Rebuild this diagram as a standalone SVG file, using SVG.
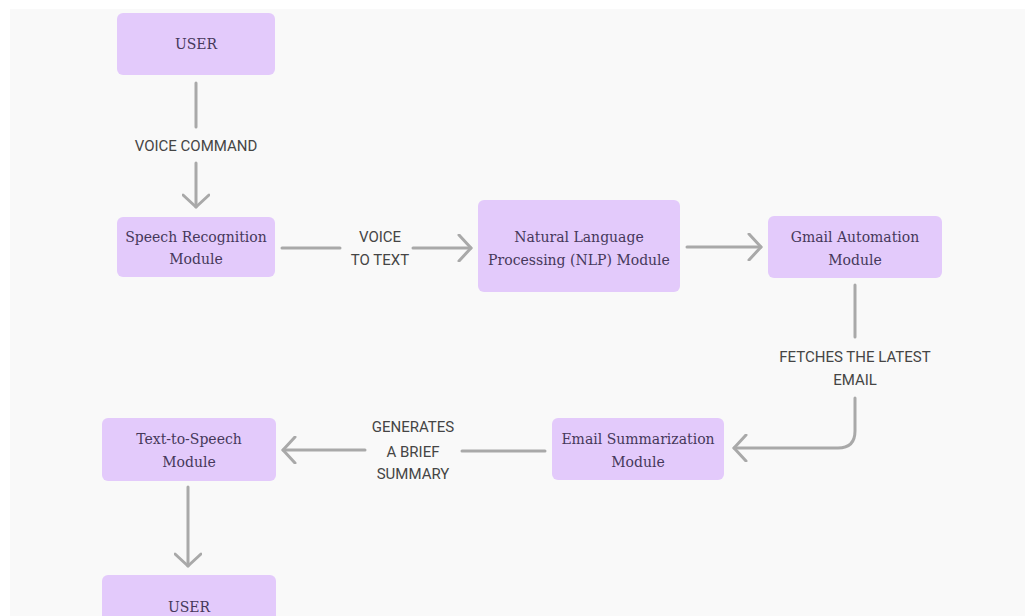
<svg xmlns="http://www.w3.org/2000/svg" width="1025" height="616" viewBox="0 0 1025 616">
<style>
.node rect{fill:#e3cafb;}
.node text{font-family:"DejaVu Serif","Liberation Serif",serif;font-size:14px;fill:#46385a;text-anchor:middle;}
.conn line,.conn path{stroke:#a9a9a9;stroke-width:3;fill:none;stroke-linecap:round;}
.lbl{font-family:Roboto,"Liberation Sans",sans-serif;font-size:15px;fill:#454545;text-anchor:middle;}
</style>
<defs>
<marker id="arr" viewBox="0 0 16 28" refX="14" refY="14" markerWidth="16" markerHeight="28" markerUnits="userSpaceOnUse" orient="auto">
<path d="M2,1 L14,14 L2,27" fill="none" stroke="#a9a9a9" stroke-width="3" stroke-linecap="round" stroke-linejoin="round"/>
</marker>
</defs>
<rect x="0" y="0" width="1025" height="616" fill="#ffffff"/>
<rect x="10" y="9" width="1015" height="607" fill="#f9f9f9"/>
<g id="connectors" class="conn">
<line x1="196" y1="83" x2="196" y2="127"/>
<line x1="196" y1="163" x2="196" y2="207" marker-end="url(#arr)"/>
<line x1="282" y1="248" x2="340" y2="248"/>
<line x1="413" y1="248" x2="471" y2="248" marker-end="url(#arr)"/>
<line x1="687" y1="247" x2="761" y2="247" marker-end="url(#arr)"/>
<line x1="855" y1="285" x2="855" y2="337"/>
<path d="M855,398 V431 Q855,448 838,448 H734" marker-end="url(#arr)"/>
<line x1="545" y1="451" x2="462" y2="451"/>
<line x1="365" y1="450" x2="283" y2="450" marker-end="url(#arr)"/>
<line x1="188" y1="487" x2="188" y2="566" marker-end="url(#arr)"/>
<text class="lbl" x="196" y="151">VOICE COMMAND</text>
<text class="lbl" x="380" y="242">VOICE</text>
<text class="lbl" x="380" y="265">TO TEXT</text>
<text class="lbl" x="855" y="362">FETCHES THE LATEST</text>
<text class="lbl" x="855" y="385">EMAIL</text>
<text class="lbl" x="413" y="432">GENERATES</text>
<text class="lbl" x="413" y="457">A BRIEF</text>
<text class="lbl" x="413" y="479">SUMMARY</text>
</g>
<g id="user-top" class="node">
<rect x="117" y="13" width="158" height="62" rx="6"/>
<text x="196" y="49">USER</text>
</g>
<g id="speech-recognition" class="node">
<rect x="117" y="217" width="158" height="60" rx="6"/>
<text x="196" y="242">Speech Recognition</text>
<text x="196" y="264">Module</text>
</g>
<g id="nlp" class="node">
<rect x="478" y="200" width="202" height="92" rx="6"/>
<text x="579" y="242">Natural Language</text>
<text x="579" y="265">Processing (NLP) Module</text>
</g>
<g id="gmail-automation" class="node">
<rect x="768" y="216" width="174" height="62" rx="6"/>
<text x="855" y="242">Gmail Automation</text>
<text x="855" y="265">Module</text>
</g>
<g id="email-summarization" class="node">
<rect x="552" y="418" width="172" height="62" rx="6"/>
<text x="638" y="444">Email Summarization</text>
<text x="638" y="467">Module</text>
</g>
<g id="text-to-speech" class="node">
<rect x="102" y="418" width="174" height="63" rx="6"/>
<text x="189" y="444">Text-to-Speech</text>
<text x="189" y="467">Module</text>
</g>
<g id="user-bottom" class="node">
<rect x="102" y="575" width="174" height="52" rx="6"/>
<text x="189" y="612">USER</text>
</g>
</svg>
